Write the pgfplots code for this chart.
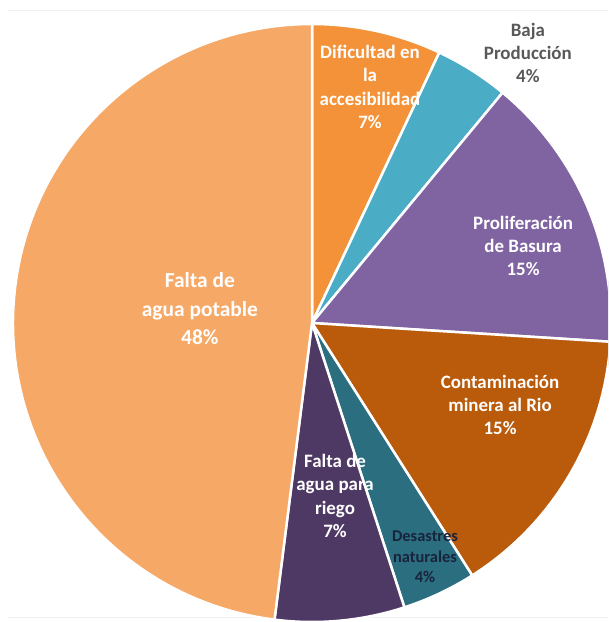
\documentclass[border=0pt]{standalone}
\usepackage{pgfplots}
\usepackage{pgfplotstable}
\pgfplotsset{compat=1.18}
\usepackage{fontspec}
\setmainfont{Carlito}
\definecolor{c0}{HTML}{F39238}
\definecolor{c1}{HTML}{4BACC6}
\definecolor{c2}{HTML}{8064A2}
\definecolor{c3}{HTML}{BA5A0B}
\definecolor{c4}{HTML}{2A6E80}
\definecolor{c5}{HTML}{4E3965}
\definecolor{c6}{HTML}{F6A866}
\pgfplotstableread{
label value
Dificultad 7
Baja 4
Proliferacion 15
Contaminacion 15
Desastres 4
Riego 7
Potable 48
}\piedata
\begin{document}
\begin{tikzpicture}
\begin{axis}[x=299bp, y=299bp,
  xmin=-1.0435, xmax=0.98997, ymin=-1, ymax=1.0803,
  hide axis, clip=true]
\addplot[draw=none] coordinates {(0,0)};
\draw[gray!12, line width=0.8bp] (axis cs:-1.0167,1.0468) -- (axis cs:0.99,1.0468);
\draw[gray!12, line width=0.8bp] (axis cs:-1.0167,-0.983) -- (axis cs:0.99,-0.983);
\pgfmathsetmacro\cum{0}
\pgfplotsforeachungrouped \i in {0,...,6}{%
  \pgfplotstablegetelem{\i}{value}\of\piedata
  \pgfmathsetmacro\a{90-3.6*\cum}%
  \pgfmathsetmacro\b{90-3.6*(\cum+\pgfplotsretval)}%
  \pgfmathsetmacro\cum{\cum+\pgfplotsretval}%
  \edef\temp{\noexpand\fill[c\i, draw=white, line width=2.5bp, line join=round] (axis cs:0,0) -- (axis cs:{cos(\a)},{sin(\a)}) arc[start angle=\a, end angle=\b, radius=299bp] -- cycle;}%
  \temp
}
\tikzset{lab/.style={align=center, font=\bfseries\fontsize{19}{23.5}\selectfont, text=white, inner sep=0pt}}
\node[lab] at (axis cs:0.194,0.789) {Dificultad en\\la\\accesibilidad\\7\%};
\node[lab, text=black!65] at (axis cs:0.722,0.903) {Baja\\Producción\\4\%};
\node[lab] at (axis cs:0.706,0.258) {Proliferación\\de Basura\\15\%};
\node[lab] at (axis cs:0.629,-0.274) {Contaminación\\minera al Rio\\15\%};
\node[lab] at (axis cs:0.077,-0.579) {Falta de\\agua para\\riego\\7\%};
\node[lab, text={rgb,255:red,25;green,36;blue,60}, font=\bfseries\fontsize{16.5}{20.5}\selectfont] at (axis cs:0.378,-0.783) {Desastres\\naturales\\4\%};
\node[lab, font=\bfseries\fontsize{21.5}{28.5}\selectfont] at (axis cs:-0.375,0.047) {Falta de\\agua potable\\48\%};
\end{axis}
\pgfresetboundingbox
\path[use as bounding box] (current axis.south west) rectangle (current axis.north east);
\end{tikzpicture}
\end{document}
